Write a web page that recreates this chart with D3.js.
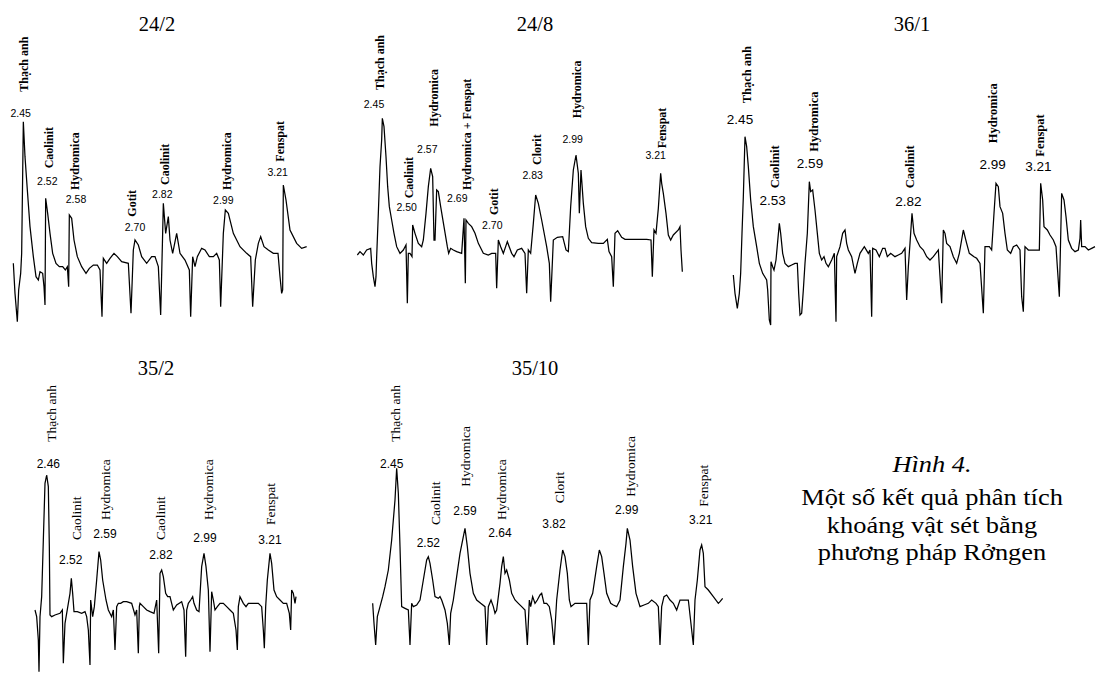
<!DOCTYPE html>
<html>
<head>
<meta charset="utf-8">
<script src="https://cdn.jsdelivr.net/npm/d3@7"></script>
<style>
  body { margin: 0; background: #fff; }
  svg { display: block; }
  .trace { fill: none; stroke: #000; stroke-width: 1.25; stroke-linejoin: miter; }
  .title { font-family: "Liberation Serif", "Times New Roman", serif; font-size: 20.5px; }
  .num { font-family: "Liberation Sans", Arial, sans-serif; }
  .caption { font-family: "Liberation Serif", "Times New Roman", serif; font-size: 24px; }
</style>
</head>
<body>
<svg id="chart" width="1096" height="675"></svg>
<script>
(() => {

  // traces: [step, intensity]
  const trace_24_2 = [[40,210],[45,120],[52,35],[56,130],[62,180],[65,240],[70,635],[75,530],[82,430],[90,320],[100,230],[108,170],[115,160],[120,185],[128,180],[132,140],[135,85],[137,405],[143,360],[150,300],[158,240],[168,210],[178,200],[188,200],[196,190],[202,200],[206,140],[208,355],[215,345],[222,280],[232,230],[245,200],[258,180],[268,195],[280,205],[292,205],[300,190],[306,50],[310,225],[320,210],[330,225],[342,240],[352,230],[365,215],[385,210],[393,60],[400,250],[405,280],[415,265],[425,230],[440,210],[455,230],[465,230],[475,200],[482,55],[487,260],[490,390],[497,300],[505,350],[510,280],[518,240],[530,300],[540,240],[555,220],[568,190],[572,50],[578,230],[585,200],[592,230],[605,255],[615,250],[628,230],[640,230],[650,240],[658,220],[662,80],[670,300],[676,370],[685,360],[700,300],[720,260],[740,240],[752,230],[758,80],[766,220],[775,270],[782,290],[792,260],[805,250],[820,240],[834,240],[840,170],[845,120],[848,130],[850,445],[858,400],[870,310],[890,270],[905,255],[920,260]]

  const trace_24_8 = [[22,235],[30,245],[40,235],[50,250],[62,255],[65,210],[70,170],[75,140],[78,170],[80,230],[85,360],[90,500],[95,580],[97,645],[102,620],[108,530],[113,440],[118,380],[125,340],[132,300],[140,260],[150,240],[160,250],[168,265],[172,90],[175,240],[180,240],[186,230],[188,325],[195,300],[205,270],[215,260],[220,280],[228,360],[235,440],[242,495],[248,470],[252,280],[255,280],[260,430],[265,425],[272,380],[282,320],[292,260],[296,240],[302,255],[310,250],[320,245],[335,240],[342,345],[346,150],[348,340],[355,330],[365,320],[375,300],[385,270],[400,240],[415,235],[425,240],[437,240],[440,135],[445,280],[452,260],[460,240],[472,275],[485,240],[492,230],[502,250],[515,255],[525,240],[530,120],[535,250],[542,240],[550,330],[557,415],[565,390],[575,340],[590,260],[598,210],[602,95],[610,280],[622,288],[638,290],[648,250],[655,245],[662,380],[670,490],[678,535],[685,480],[688,360],[693,490],[700,390],[707,320],[715,285],[725,272],[745,270],[760,270],[772,282],[777,245],[785,230],[790,140],[795,300],[803,308],[815,288],[825,282],[845,282],[870,282],[890,282],[903,280],[907,170],[912,310],[918,300],[925,375],[932,480],[935,450],[940,420],[948,360],[955,295],[962,280],[970,295],[985,310],[990,320],[993,250],[997,185]]

  const trace_36_1 = [[40,175],[45,120],[52,75],[58,120],[62,180],[66,300],[70,410],[75,590],[80,560],[85,500],[92,400],[100,320],[110,260],[118,210],[128,180],[140,160],[143,130],[148,40],[152,25],[153,215],[158,200],[162,190],[168,220],[178,330],[182,300],[188,240],[195,210],[205,200],[215,205],[225,210],[232,210],[236,120],[240,55],[245,60],[250,130],[255,210],[262,300],[268,455],[272,425],[278,430],[285,370],[292,300],[298,240],[305,220],[312,230],[318,210],[325,200],[335,220],[343,240],[348,35],[350,230],[360,260],[368,300],[375,310],[380,270],[385,250],[395,230],[405,180],[412,210],[420,240],[433,260],[445,240],[450,250],[455,50],[458,255],[468,250],[478,230],[488,255],[495,255],[502,230],[512,240],[525,230],[535,235],[545,240],[555,255],[560,100],[565,200],[570,270],[576,360],[582,300],[590,280],[600,260],[610,250],[620,230],[630,220],[640,230],[655,250],[665,90],[670,310],[675,300],[680,270],[690,260],[700,230],[710,210],[718,240],[730,310],[740,270],[748,240],[762,230],[770,225],[780,210],[790,60],[795,260],[808,260],[815,250],[822,360],[828,450],[835,440],[840,380],[848,360],[855,300],[862,250],[872,240],[880,260],[890,265],[900,250],[905,110],[910,65],[915,260],[925,250],[940,250],[958,250],[962,450],[968,400],[972,320],[982,310],[990,295],[1000,280],[1008,260],[1012,200],[1018,110],[1025,420],[1032,400],[1038,350],[1045,280],[1055,255],[1065,245],[1075,250],[1080,285],[1082,340],[1085,260],[1095,260],[1105,250],[1115,255],[1125,260]]

  const trace_35_2 = [[105,190],[110,170],[115,100],[117,5],[120,170],[125,230],[130,400],[135,570],[140,595],[145,560],[148,380],[150,175],[155,170],[165,175],[180,180],[187,190],[190,30],[195,150],[200,180],[205,210],[210,240],[214,285],[218,240],[222,185],[232,185],[245,180],[255,185],[260,170],[265,130],[270,25],[272,220],[278,170],[283,200],[290,280],[297,365],[302,340],[308,280],[318,220],[325,190],[335,170],[340,190],[345,70],[350,200],[355,210],[362,210],[370,215],[380,215],[395,210],[405,175],[410,190],[415,60],[418,200],[420,210],[430,200],[440,190],[450,185],[462,180],[470,220],[476,60],[480,300],[485,310],[490,290],[497,240],[503,230],[510,230],[515,210],[520,190],[530,205],[545,215],[552,190],[557,50],[560,190],[565,210],[572,220],[578,230],[582,210],[590,190],[597,185],[605,320],[612,360],[618,320],[625,250],[630,65],[635,245],[640,220],[645,190],[652,200],[660,210],[670,210],[680,200],[690,190],[700,180],[708,130],[712,70],[715,200],[720,230],[730,210],[738,200],[745,210],[760,210],[775,210],[785,200],[790,130],[793,75],[797,200],[802,280],[810,360],[815,330],[822,250],[830,230],[840,220],[850,210],[860,210],[868,180],[872,130],[875,250],[880,240],[885,210],[888,230]]

  const trace_35_10 = [[38,210],[42,150],[47,85],[52,170],[60,200],[68,230],[75,260],[85,310],[95,400],[105,520],[110,615],[115,540],[120,380],[125,200],[135,195],[145,190],[150,85],[155,210],[160,200],[170,205],[180,220],[190,280],[200,340],[205,350],[210,330],[218,280],[225,230],[235,225],[240,230],[245,220],[255,190],[262,150],[268,85],[272,180],[280,220],[290,290],[300,360],[310,410],[315,435],[322,380],[330,300],[340,240],[350,220],[362,210],[375,200],[380,85],[385,200],[393,220],[400,200],[405,180],[410,190],[420,270],[425,320],[430,350],[435,300],[440,310],[448,280],[455,240],[465,220],[475,210],[485,200],[495,190],[502,85],[508,220],[512,200],[518,230],[525,210],[532,220],[540,235],[545,240],[552,210],[560,210],[568,200],[575,160],[582,85],[590,220],[600,310],[608,370],[615,350],[622,300],[628,220],[633,200],[645,210],[660,210],[680,210],[685,85],[690,220],[698,240],[710,320],[718,370],[725,350],[732,300],[740,240],[752,210],[760,205],[770,200],[780,220],[790,320],[798,390],[802,435],[810,400],[818,320],[828,240],[840,200],[852,205],[865,210],[875,220],[888,210],[895,200],[900,85],[905,200],[912,230],[920,235],[930,220],[940,210],[950,190],[960,220],[970,220],[985,220],[1000,85],[1005,220],[1012,280],[1020,370],[1025,385],[1030,360],[1035,260],[1045,250],[1060,230],[1075,210],[1080,215],[1088,225]]

  // peaks: [mineral, d (Å), name step, d step, d level, name level]
  const peaks_24_2 = [
    ["Thạch anh", "2.45", 70, 62, 660, 725],
    ["Caolinit", "2.52", 145, 142, 455, 495],
    ["Hydromica", "2.58", 225, 228, 402, 430],
    ["Gotit", "2.70", 395, 405, 317, 350],
    ["Caolinit", "2.82", 495, 487, 418, 445],
    ["Hydromica", "2.99", 680, 670, 400, 430],
    ["Fenspat", "3.21", 840, 833, 483, 515]
  ]
  const peaks_24_8 = [
    ["Thạch anh", "2.45", 88, 72, 688, 730],
    ["Caolinit", "2.50", 175, 170, 378, 405],
    ["Hydromica", "2.57", 250, 232, 552, 620],
    ["Hydromica + Fenspat", "2.69", 350, 322, 405, 430],
    ["Gotit", "2.70", 430, 427, 324, 355],
    ["Clorit", "2.83", 560, 548, 473, 505],
    ["Hydromica", "2.99", 680, 668, 582, 645],
    ["Fenspat", "3.21", 935, 917, 533, 555]
  ]
  const peaks_36_1 = [
    ["Thạch anh", "2.45", 80, 60, 642, 690],
    ["Caolinit", "2.53", 165, 158, 400, 435],
    ["Hydromica", "2.59", 280, 270, 510, 545],
    ["Caolinit", "2.82", 570, 565, 395, 435],
    ["Hydromica", "2.99", 818, 818, 508, 570],
    ["Fenspat", "3.21", 958, 955, 500, 530]
  ]
  const peaks_35_2 = [
    ["Thạch anh", "2.46", 155, 145, 630, 695],
    ["Caolinit", "2.52", 228, 212, 340, 400],
    ["Hydromica", "2.59", 315, 315, 420, 460],
    ["Caolinit", "2.82", 480, 483, 355, 400],
    ["Hydromica", "2.99", 625, 615, 408, 460],
    ["Fenspat", "3.21", 810, 810, 402, 445]
  ]
  const peaks_35_10 = [
    ["Thạch anh", "2.45", 105, 95, 628, 695],
    ["Caolinit", "2.52", 225, 205, 393, 445],
    ["Hydromica", "2.59", 315, 315, 488, 560],
    ["Hydromica", "2.64", 425, 420, 422, 460],
    ["Clorit", "3.82", 598, 582, 448, 510],
    ["Hydromica", "2.99", 810, 800, 490, 530],
    ["Fenspat", "3.21", 1030, 1022, 460, 500]
  ]

  const caption_title = "Hình 4."
  const caption_lines = ["Một số kết quả phân tích", "khoáng vật sét bằng", "phương pháp Rởngen"]

  let panels = [
    {title: "24/2", trace: trace_24_2, peaks: peaks_24_2, left: 0, top: 0, w: 320, h: 330, tx: 157, ty: 31, bold: true, nameSize: 12, numSize: 10.5},
    {title: "24/8", trace: trace_24_8, peaks: peaks_24_8, left: 350, top: 0, w: 340, h: 310, tx: 535, ty: 31, bold: true, nameSize: 12, numSize: 10.5},
    {title: "36/1", trace: trace_36_1, peaks: peaks_36_1, left: 720, top: 0, w: 376, h: 330, tx: 912, ty: 31, bold: true, nameSize: 12.5, numSize: 13.5},
    {title: "35/2", trace: trace_35_2, peaks: peaks_35_2, left: 0, top: 340, w: 310, h: 335, tx: 156, ty: 375, bold: false, nameSize: 13.5, numSize: 12},
    {title: "35/10", trace: trace_35_10, peaks: peaks_35_10, left: 360, top: 340, w: 380, h: 300, tx: 535, ty: 375, bold: false, nameSize: 13.5, numSize: 12}
  ]

  let svg = d3.select("#chart")

  panels.forEach(p => {
    // 3 steps per pixel, intensity 1000 at panel top
    let x = d3.scaleLinear().domain([0, p.w * 3]).range([p.left, p.left + p.w])
    let y = d3.scaleLinear().domain([1000, 1000 - p.h * 3]).range([p.top, p.top + p.h])

    let g = svg.append("g")

    g.append("text")
    .attr("class", "title")
    .attr("x", p.tx)
    .attr("y", p.ty)
    .attr("text-anchor", "middle")
    .text(p.title)

    let line = d3.line().x(d => x(d[0])).y(d => y(d[1]))

    g.append("path")
    .datum(p.trace)
    .attr("class", "trace")
    .attr("d", line)

    g.selectAll(".num")
    .data(p.peaks)
    .enter()
    .append("text")
    .attr("class", "num")
    .attr("x", d => x(d[3]))
    .attr("y", d => y(d[4]))
    .attr("dy", "0.35em")
    .attr("text-anchor", "middle")
    .style("font-size", p.numSize + "px")
    .text(d => d[1])

    g.selectAll(".name")
    .data(p.peaks)
    .enter()
    .append("text")
    .attr("class", "name")
    .attr("transform", d => "translate(" + x(d[2]) + "," + y(d[5]) + ") rotate(-90)")
    .attr("dy", "0.35em")
    .style("font-family", "'Liberation Serif', 'Times New Roman', serif")
    .style("font-weight", p.bold ? "bold" : "normal")
    .style("font-size", p.nameSize + "px")
    .text(d => d[0])
  })

  // caption, slightly widened like the original typeface
  let cap = svg.append("g")
  let cap_y = [472, 505, 532.5, 560]

  cap.append("text")
  .attr("class", "caption")
  .attr("transform", "translate(932," + cap_y[0] + ") scale(1.1,1)")
  .attr("text-anchor", "middle")
  .style("font-style", "italic")
  .text(caption_title)

  cap.selectAll(".cap_line")
  .data(caption_lines)
  .enter()
  .append("text")
  .attr("class", "caption cap_line")
  .attr("transform", (d, i) => "translate(932," + cap_y[i + 1] + ") scale(1.1,1)")
  .attr("text-anchor", "middle")
  .text(d => d)

})()
</script>
</body>
</html>
